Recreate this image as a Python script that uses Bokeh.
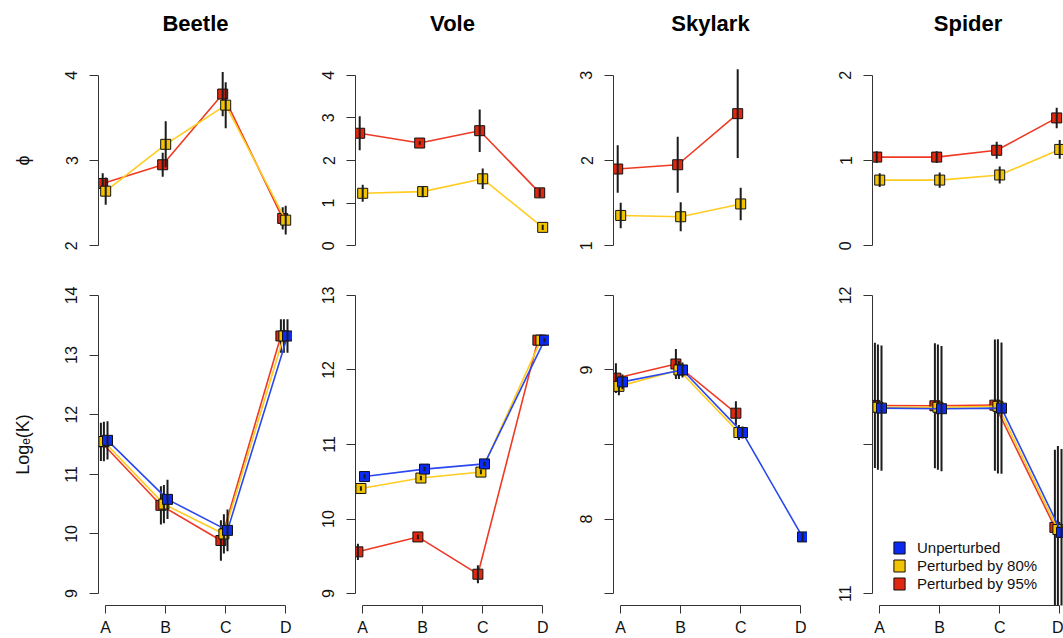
from bokeh.plotting import figure
from bokeh.layouts import row, column
from bokeh.models import Range1d, FixedTicker, Legend, LegendItem, Title
from bokeh.embed import file_html
from bokeh.resources import INLINE

NaN = float("nan")

# ---------------- data ----------------
categories = ["A", "B", "C", "D"]
species = ["Beetle", "Vole", "Skylark", "Spider"]
series_labels = ["Unperturbed", "Perturbed by 80%", "Perturbed by 95%"]

# phi (top row): perturbed by 95% (red) and by 80% (gold)
beetle_phi_95 = [2.73, 2.95, 3.78, 2.32]
beetle_phi_95_err = [0.12, 0.14, 0.26, 0.13]
beetle_phi_80 = [2.64, 3.19, 3.65, 2.30]
beetle_phi_80_err = [0.16, 0.27, 0.27, 0.17]

vole_phi_95 = [2.64, 2.41, 2.70, 1.24]
vole_phi_95_err = [0.40, 0.04, 0.50, 0.10]
vole_phi_80 = [1.23, 1.27, 1.57, 0.43]
vole_phi_80_err = [0.20, 0.13, 0.24, 0.06]

skylark_phi_95 = [1.90, 1.95, 2.55, NaN]
skylark_phi_95_err = [0.28, 0.33, 0.52, NaN]
skylark_phi_80 = [1.355, 1.34, 1.49, NaN]
skylark_phi_80_err = [0.15, 0.17, 0.19, NaN]

spider_phi_95 = [1.04, 1.04, 1.12, 1.50]
spider_phi_95_err = [0.07, 0.07, 0.10, 0.12]
spider_phi_80 = [0.77, 0.77, 0.83, 1.13]
spider_phi_80_err = [0.08, 0.09, 0.10, 0.11]

# log_e(K) (bottom row): unperturbed (blue), 80% (gold), 95% (red)
beetle_k_un = [11.57, 10.58, 10.06, 13.32]
beetle_k_un_err = [0.32, 0.33, 0.35, 0.28]
beetle_k_80 = [11.55, 10.50, 10.00, 13.32]
beetle_k_80_err = [0.33, 0.32, 0.33, 0.28]
beetle_k_95 = [11.545, 10.48, 9.89, 13.32]
beetle_k_95_err = [0.32, 0.32, 0.34, 0.28]

vole_k_un = [10.57, 10.67, 10.74, 12.40]
vole_k_un_err = [0.03, 0.03, 0.03, 0.03]
vole_k_80 = [10.41, 10.55, 10.63, 12.40]
vole_k_80_err = [0.03, 0.03, 0.03, 0.02]
vole_k_95 = [9.56, 9.76, 9.26, 12.40]
vole_k_95_err = [0.11, 0.03, 0.12, 0.03]

skylark_k_un = [8.92, 9.00, 8.58, 7.88]
skylark_k_un_err = [0.05, 0.05, 0.04, 0.03]
skylark_k_80 = [8.89, 9.00, 8.58, NaN]
skylark_k_80_err = [0.06, 0.06, 0.05, NaN]
skylark_k_95 = [8.945, 9.04, 8.71, NaN]
skylark_k_95_err = [0.10, 0.10, 0.08, NaN]

spider_k_un = [11.622, 11.620, 11.622, 11.205]
spider_k_un_err = [0.21, 0.21, 0.22, 0.28]
spider_k_80 = [11.625, 11.625, 11.628, 11.215]
spider_k_80_err = [0.21, 0.21, 0.225, 0.28]
spider_k_95 = [11.631, 11.630, 11.632, 11.222]
spider_k_95_err = [0.21, 0.21, 0.22, 0.26]

# axis limits and ticks
phi_limits = [(2, 4), (0, 4), (1, 3), (0, 2)]
phi_ticks = [[2, 3, 4], [0, 1, 2, 3, 4], [1, 2, 3], [0, 1, 2]]
phi_tick_labels = [["2", "3", "4"], ["0", "1", "2", "3", "4"], ["1", "2", "3"], ["0", "1", "2"]]
k_limits = [(9, 14), (9, 13), (7.5, 9.5), (11, 12)]
k_ticks = [[9, 10, 11, 12, 13, 14], [9, 10, 11, 12, 13], [7.5, 8, 8.5, 9, 9.5], [11, 11.5, 12]]
k_tick_labels = [["9", "10", "11", "12", "13", "14"], ["9", "10", "11", "12", "13"],
                 ["", "8", "", "9", ""], ["11", "", "12"]]

phi_data = [
    [(beetle_phi_95, beetle_phi_95_err), (beetle_phi_80, beetle_phi_80_err)],
    [(vole_phi_95, vole_phi_95_err), (vole_phi_80, vole_phi_80_err)],
    [(skylark_phi_95, skylark_phi_95_err), (skylark_phi_80, skylark_phi_80_err)],
    [(spider_phi_95, spider_phi_95_err), (spider_phi_80, spider_phi_80_err)],
]
k_data = [
    [(beetle_k_95, beetle_k_95_err), (beetle_k_80, beetle_k_80_err), (beetle_k_un, beetle_k_un_err)],
    [(vole_k_95, vole_k_95_err), (vole_k_80, vole_k_80_err), (vole_k_un, vole_k_un_err)],
    [(skylark_k_95, skylark_k_95_err), (skylark_k_80, skylark_k_80_err), (skylark_k_un, skylark_k_un_err)],
    [(spider_k_95, spider_k_95_err), (spider_k_80, spider_k_80_err), (spider_k_un, spider_k_un_err)],
]

# ---------------- styling ----------------
FONT = "Liberation Sans"
RED = ("#EE3A24", "#E0280E")
GOLD = ("#FFCC1F", "#F2C300")
BLUE = ("#2A48EE", "#0B2BF2")
BAR = "#1c1c1c"
AXIS = "#333333"

COL_LEFT = [98, 63, 64, 65]
FRAME_W = [194, 194, 194, 191]
PX_PER_X = 60.0
X0 = 0.88
TOP_BORDER_T, TOP_FRAME_H, TOP_BORDER_B = 68, 184, 15
BOT_BORDER_T, BOT_FRAME_H, BOT_BORDER_B = 16, 323, 32

TOP_STYLES = [(RED, -0.05), (GOLD, 0.0)]
BOT_STYLES = [(RED, -0.08), (GOLD, -0.03), (BLUE, 0.03)]


def style_yaxis(p, ticks, labels):
    ax = p.yaxis[0]
    ax.ticker = FixedTicker(ticks=ticks)
    ax.major_label_overrides = {t: l for t, l in zip(ticks, labels)}
    ax.bounds = (ticks[0], ticks[-1])
    ax.major_label_orientation = "vertical"
    ax.major_label_text_font = FONT
    ax.major_label_text_font_size = "16px"
    ax.major_label_text_color = "#111111"
    ax.major_label_standoff = 12
    ax.major_tick_out = 9
    ax.major_tick_in = 0
    ax.minor_tick_out = 0
    ax.minor_tick_in = 0
    ax.axis_line_color = AXIS
    ax.major_tick_line_color = AXIS
    ax.axis_label_text_font = FONT
    ax.axis_label_text_font_size = "18px"
    ax.axis_label_text_font_style = "normal"
    ax.axis_label_text_color = "#111111"
    ax.axis_label_standoff = 30


def draw_series(p, x_base, vals, errs, style):
    (line_c, fill_c), off = style
    xs = [x + off for x in x_base]
    p.line(xs, vals, line_color=line_c, line_width=1.6)
    p.scatter(xs, vals, marker="square", size=10, fill_color=fill_c,
              line_color="#111111", line_width=1)
    lo = [v - e for v, e in zip(vals, errs)]
    hi = [v + e for v, e in zip(vals, errs)]
    p.segment(xs, lo, xs, hi, line_color=BAR, line_width=2)


x_base = list(range(1, len(categories) + 1))
tops, bots = [], []
for i, name in enumerate(species):
    left, fw = COL_LEFT[i], FRAME_W[i]
    x_end = X0 + fw / PX_PER_X

    # ---- top (phi) ----
    lo, hi = phi_limits[i]
    span = hi - lo
    pt = figure(width=left + fw, height=TOP_BORDER_T + TOP_FRAME_H + TOP_BORDER_B,
                x_range=Range1d(X0, x_end),
                y_range=Range1d(lo - 0.04 * span, hi + 0.04 * span),
                x_axis_location=None, toolbar_location=None, output_backend="svg",
                min_border_left=left, min_border_right=0, min_border_top=TOP_BORDER_T,
                min_border_bottom=TOP_BORDER_B)
    # blank spacer between frame and the panel title
    pt.add_layout(Title(text=" ", text_font_size="1px", standoff=30), "above")
    pt.add_layout(Title(text=name, align="center", vertical_align="bottom", standoff=0,
                        text_font=FONT, text_font_size="22px", text_font_style="bold",
                        text_color="#000000"), "above")
    pt.grid.visible = False
    pt.outline_line_color = None
    style_yaxis(pt, phi_ticks[i], phi_tick_labels[i])
    if i == 0:
        pt.yaxis[0].axis_label = "ϕ"
    for (vals, errs), st in zip(phi_data[i], TOP_STYLES):
        draw_series(pt, x_base, vals, errs, st)
    tops.append(pt)

    # ---- bottom (log K) ----
    lo, hi = k_limits[i]
    span = hi - lo
    pb = figure(width=left + fw, height=BOT_BORDER_T + BOT_FRAME_H + BOT_BORDER_B,
                x_range=Range1d(X0, x_end),
                y_range=Range1d(lo - 0.04 * span, hi + 0.04 * span),
                toolbar_location=None, output_backend="svg",
                min_border_left=left, min_border_right=0, min_border_top=BOT_BORDER_T,
                min_border_bottom=BOT_BORDER_B)
    pb.grid.visible = False
    pb.outline_line_color = None
    style_yaxis(pb, k_ticks[i], k_tick_labels[i])
    if i == 0:
        pb.yaxis[0].axis_label = "Logₑ(K)"
    xa = pb.xaxis[0]
    xa.ticker = FixedTicker(ticks=x_base)
    xa.major_label_overrides = {x: c for x, c in zip(x_base, categories)}
    xa.bounds = (x_base[0], x_base[-1])
    xa.major_label_text_font = FONT
    xa.major_label_text_font_size = "16px"
    xa.major_label_text_color = "#111111"
    xa.major_label_standoff = 5
    xa.major_tick_out = 8
    xa.major_tick_in = 0
    xa.minor_tick_out = 0
    xa.minor_tick_in = 0
    xa.axis_line_color = AXIS
    xa.major_tick_line_color = AXIS
    for (vals, errs), st in zip(k_data[i], BOT_STYLES):
        draw_series(pb, x_base, vals, errs, st)

    if i == len(species) - 1:
        items = []
        for lab, (line_c, fill_c) in zip(series_labels, [BLUE, GOLD, RED]):
            # legend swatch only: a single undrawable (NaN) box so the legend shows it
            r = pb.quad(left=[NaN], right=[NaN], top=[NaN], bottom=[NaN], fill_color=fill_c,
                        line_color="#111111", line_width=1)
            items.append(LegendItem(label=lab, renderers=[r]))
        leg = Legend(items=items, location=(20, 13), border_line_color=None,
                     background_fill_alpha=0, padding=0, margin=0, spacing=1,
                     glyph_width=14, glyph_height=15, label_height=16,
                     label_standoff=11, label_text_font=FONT,
                     label_text_font_size="15px", label_text_color="#111111")
        pb.add_layout(leg)
    bots.append(pb)

layout = row(*[column(t, b) for t, b in zip(tops, bots)])
open("out.html", "w").write(file_html(layout, INLINE))
